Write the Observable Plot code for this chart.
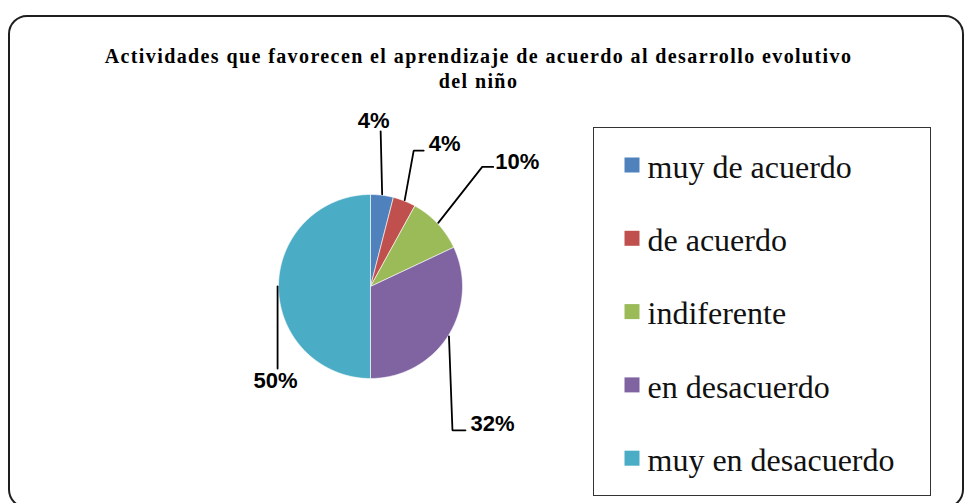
<!DOCTYPE html>
<html>
<head>
<meta charset="utf-8">
<script src="https://cdn.jsdelivr.net/npm/d3@7"></script>
<script src="https://cdn.jsdelivr.net/npm/@observablehq/plot@0.6"></script>
<style>
  html, body { margin: 0; padding: 0; background: #fff; }
  #chart { width: 964px; height: 503px; overflow: hidden; }
</style>
</head>
<body>
<div id="chart"></div>
<script>
// ---- data ----
const categories = ["muy de acuerdo", "de acuerdo", "indiferente", "en desacuerdo", "muy en desacuerdo"];
const values = [4, 4, 10, 32, 50];
const valueLabels = ["4%", "4%", "10%", "32%", "50%"];
const colors = ["#4F81BD", "#C0504D", "#9BBB59", "#8064A2", "#4BACC6"];
const titleText = "Actividades que favorecen el aprendizaje de acuerdo al desarrollo evolutivo\ndel niño";

// ---- layout ----
const W = 964, H = 503;
const cx = 370, cy = 286, R = 92;
const leaderLayout = [
  {path: [[-1.5, -63]], label: [-7, -10], anchor: "middle"},
  {path: [[9, -49.5], [19, -49.5]], label: [5, -7], anchor: "start"},
  {path: [[44, -56], [55, -56]], label: [2, -5], anchor: "start"},
  {path: [[3.5, 94], [16.5, 94]], label: [5, -6], anchor: "start"},
  {path: [[0, 82]], label: [-2, 12], anchor: "middle"}
];
const legendSwatchX = 624.5, legendTextX = 647, legendY0 = 165, legendStep = 73.3, swatch = 15;
const serif = "'Liberation Serif', 'Times New Roman', Times, serif";
const sans = "'Liberation Sans', Arial, sans-serif";

// ---- derived ----
const rows = categories.map((c, i) => ({cat: c, value: values[i], label: valueLabels[i], i}));
const arcs = d3.pie().sort(null).value(d => d.value)(rows);
const pt = (a, r) => [cx + r * Math.sin(a), cy - r * Math.cos(a)];

const slicePts = arcs.flatMap(a => {
  const pts = [{cat: a.data.cat, x: cx, y: cy}];
  const n = Math.max(2, Math.ceil((a.endAngle - a.startAngle) / (Math.PI / 360)));
  for (let k = 0; k <= n; k++) {
    const ang = a.startAngle + (a.endAngle - a.startAngle) * k / n;
    const [x, y] = pt(ang, R);
    pts.push({cat: a.data.cat, x, y});
  }
  pts.push({cat: a.data.cat, x: cx, y: cy});
  return pts;
});

const leaderPts = [];
const labelRows = [];
arcs.forEach((a, i) => {
  const mid = (a.startAngle + a.endAngle) / 2;
  const [sx, sy] = pt(mid, R * 1.01);
  const L = leaderLayout[i];
  leaderPts.push({i, x: sx, y: sy});
  L.path.forEach(([dx, dy]) => leaderPts.push({i, x: sx + dx, y: sy + dy}));
  const [ex, ey] = L.path[L.path.length - 1];
  labelRows.push({text: a.data.label, x: sx + ex + L.label[0], y: sy + ey + L.label[1], anchor: L.anchor});
});

const legendRows = categories.map((c, i) => ({cat: c, yc: legendY0 + i * legendStep}));

const chart = Plot.plot({
  width: W, height: H, margin: 0,
  x: {domain: [0, W], range: [0, W], axis: null},
  y: {domain: [0, H], range: [0, H], axis: null},
  color: {domain: categories, range: colors},
  style: {background: "#fff"},
  marks: [
    Plot.frame({rx: 18, stroke: "#1e1e1e", strokeWidth: 2, insetLeft: 8.5, insetTop: 15.5, insetRight: 1.5, insetBottom: -4}),
    Plot.text([titleText], {
      frameAnchor: "top", dx: -4, dy: 45, lineAnchor: "top", lineHeight: 1.25,
      text: d => d, fontFamily: serif,
      fontWeight: "bold", fontSize: 20, fill: "#000"
    }),
    Plot.line(slicePts, {x: "x", y: "y", z: "cat", fill: "cat", stroke: "#fff", strokeWidth: 0.6, strokeLinejoin: "round"}),
    Plot.line(leaderPts, {x: "x", y: "y", z: "i", stroke: "#000", strokeWidth: 1.8, strokeLinejoin: "miter"}),
    Plot.text(labelRows.filter(d => d.anchor === "middle"), {
      x: "x", y: "y", text: "text", textAnchor: "middle",
      fontFamily: sans, fontWeight: "bold", fontSize: 22, fill: "#000"
    }),
    Plot.text(labelRows.filter(d => d.anchor === "start"), {
      x: "x", y: "y", text: "text", textAnchor: "start",
      fontFamily: sans, fontWeight: "bold", fontSize: 22, fill: "#000"
    }),
    Plot.frame({stroke: "#333", strokeWidth: 1, insetLeft: 593, insetTop: 127, insetRight: 34, insetBottom: 8}),
    Plot.rect(legendRows, {
      x1: () => legendSwatchX, x2: () => legendSwatchX + swatch,
      y1: d => d.yc - swatch / 2, y2: d => d.yc + swatch / 2, fill: "cat"
    }),
    Plot.text(legendRows, {
      x: () => legendTextX, y: d => d.yc + 2, text: "cat", textAnchor: "start",
      fontFamily: serif, fontSize: 32, fill: "#111"
    })
  ]
});
// title styling: serif bold with spacing like the original
chart.querySelectorAll("text").forEach(t => {
  if (t.textContent.startsWith("Actividades")) {
    t.style.fontFamily = serif;
    t.style.fontWeight = "bold";
    t.style.letterSpacing = "1.4px";
    t.setAttribute("font-family", serif);
  }
});
document.getElementById("chart").appendChild(chart);
</script>
</body>
</html>
